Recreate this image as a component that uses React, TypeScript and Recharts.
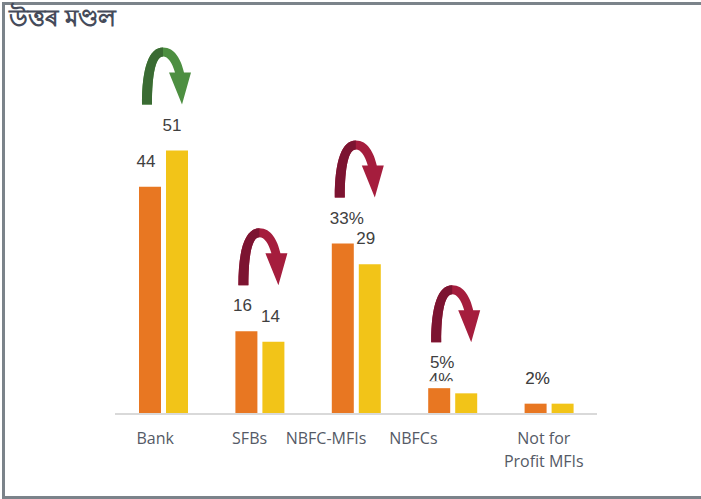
import React from 'react';
import { BarChart, Bar, XAxis, YAxis, LabelList } from 'recharts';

// North zone: share by lender type, earlier period (orange) vs later period (yellow)
const categories = ['Bank', 'SFBs', 'NBFC-MFIs', 'NBFCs', 'Not for Profit MFIs'];
const earlier = [44, 16, 33, 5, 2];
const later = [51, 14, 29, 4, 2];
const earlierLabels = ['44', '16', '33%', '5%', '2%'];
const laterLabels = ['51', '14', '29', '4%', '2%'];

const data = categories.map((name, i) => ({
  name,
  earlier: earlier[i],
  later: later[i],
}));

const ORANGE = '#E87722';
const YELLOW = '#F2C418';
const BAR = 22;
const GAP = 5;

// small nudges so text sits where the original slide put it
const tickNudge = [-8, -10, -30, -39, -5];
const earlierNudge = [-4, -4, 4, 3, 2];
const laterNudge = [-5, -3, -4, -25, -25];

const wrap = (text: string, max = 11) => {
  const lines: string[] = [];
  let cur = '';
  text.split(' ').forEach((w) => {
    if (cur && (cur + ' ' + w).length > max) {
      lines.push(cur);
      cur = w;
    } else {
      cur = cur ? cur + ' ' + w : w;
    }
  });
  if (cur) lines.push(cur);
  return lines;
};

const CategoryTick = ({ x, y, payload, index }: any) => {
  const lines = wrap(payload.value);
  const tx = x + (tickNudge[index] ?? 0);
  return (
    <text
      x={tx}
      y={y}
      textAnchor="middle"
      fill="#555a66"
      fontSize={16}
      fontFamily="'Open Sans', sans-serif"
    >
      {lines.map((l, i) => (
        <tspan key={i} x={tx} dy={i === 0 ? 22 : 23}>
          {l}
        </tspan>
      ))}
    </text>
  );
};

const valueText = (x: number, y: number, txt: string, opacity = 1) => (
  <text
    x={x}
    y={y}
    textAnchor="middle"
    fill="#404040"
    fillOpacity={opacity}
    fontSize={17}
    fontFamily="'Liberation Sans', Arial, sans-serif"
  >
    {txt}
  </text>
);

const EarlierLabel = ({ x, y, width, index }: any) =>
  valueText(x + width / 2 + earlierNudge[index], y - 20, earlierLabels[index]);

// curved "turn" arrow, drawn in a 52x57 box
const Arrow = ({ left, bottom, up }: { left: number; bottom: number; up: boolean }) => {
  const dark = up ? '#3A6B33' : '#7C1431';
  const light = up ? '#4D8F41' : '#A51D3D';
  return (
    <g transform={`translate(${left},${bottom - 57})`}>
      <path
        d="M3 57 C3 20 10 0 24 0 C36 0 42 12 45 25 L52 25 L43 57 L30 25 L36 25 C33 15 29 9 24 9 C17 9 13 25 13 57 Z"
        fill={light}
      />
      <path d="M3 57 C3 20 10 0 24 0 L24 9 C17 9 13 25 13 57 Z" fill={dark} />
    </g>
  );
};

const LaterLabel = ({ x, y, width, height, index, value }: any) => {
  const orangeVal = earlier[index];
  const perUnit = value ? height / value : 0;
  const topOfGroup = y - Math.max(0, orangeVal - value) * perUnit;
  const orangeLeft = x - BAR - GAP;
  const lx = x + width / 2 + laterNudge[index];
  // the NBFCs label is tucked half under the orange one on the slide
  const ly = index === 3 ? topOfGroup - 3 : y - 20;
  const same = laterLabels[index] === earlierLabels[index];
  return (
    <g>
      {valueText(lx, ly, laterLabels[index], same ? 0.35 : 1)}
      {index === 3 && <rect x={lx - 15} y={ly - 4} width={30} height={6} fill="#fff" />}
      {value !== orangeVal && (
        <Arrow left={orangeLeft} bottom={topOfGroup - 46} up={value > orangeVal} />
      )}
    </g>
  );
};

export default function App() {
  return (
    <div
      style={{
        position: 'absolute',
        left: 0,
        top: 0,
        width: 701,
        height: 499,
        background: '#fff',
        overflow: 'hidden',
      }}
    >
      <div
        style={{
          position: 'absolute',
          left: 2,
          top: 2,
          width: 760,
          height: 491,
          borderLeft: '3px solid #7b838a',
          borderTop: '3px solid #7b838a',
          borderBottom: '3px solid #7b838a',
        }}
      />
      <div
        style={{
          position: 'absolute',
          left: 9,
          top: 1,
          fontSize: 24,
          lineHeight: '32px',
          fontWeight: 'bold',
          color: '#454b5a',
          fontFamily: "'Noto Sans', sans-serif",
        }}
      >
        উত্তৰ মণ্ডল
      </div>
      <div style={{ position: 'absolute', left: 0, top: 0 }}>
        <BarChart
          width={701}
          height={499}
          data={data}
          margin={{ top: 104, right: 104, bottom: 25, left: 115 }}
          barSize={BAR}
          barGap={GAP}
        >
          <XAxis
            dataKey="name"
            height={60}
            interval={0}
            tickLine={false}
            axisLine={{ stroke: '#d9d9d9', strokeWidth: 2 }}
            tick={<CategoryTick />}
          />
          <YAxis hide domain={[0, 60]} />
          <Bar dataKey="earlier" fill={ORANGE} isAnimationActive={false}>
            <LabelList dataKey="earlier" content={<EarlierLabel />} />
          </Bar>
          <Bar dataKey="later" fill={YELLOW} isAnimationActive={false}>
            <LabelList dataKey="later" content={<LaterLabel />} />
          </Bar>
        </BarChart>
      </div>
    </div>
  );
}
